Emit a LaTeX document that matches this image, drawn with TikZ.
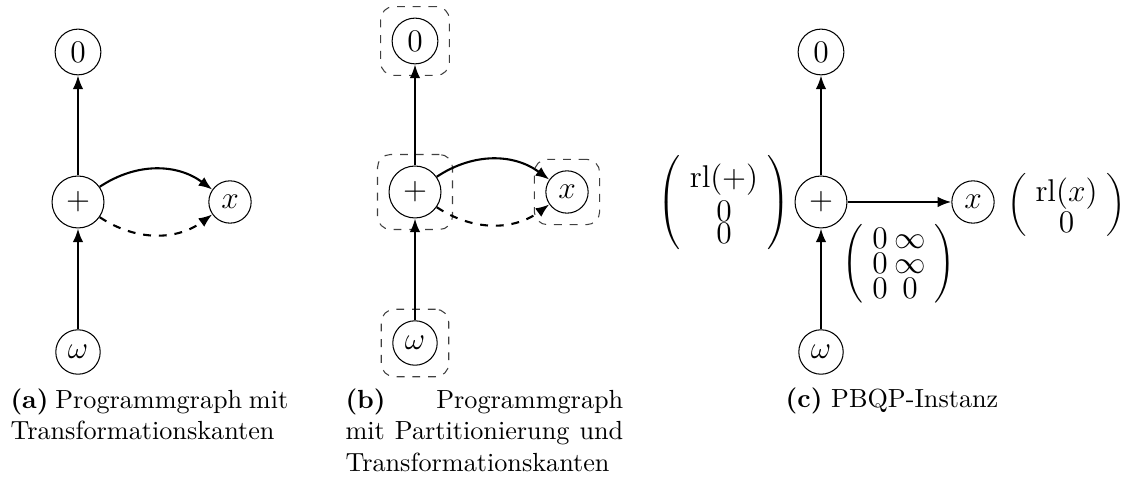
\documentclass[tikz,border=0pt]{standalone}
\usepackage{amsmath}
\usetikzlibrary{arrows.meta,fit,matrix}
\begin{document}
\begin{tikzpicture}[x=0.38168pt,y=-0.38168pt,
  vertex/.style={circle,draw,thin,inner sep=2.75pt,font=\large},
  edge/.style={thick,-{Latex[length=5.2pt,width=4pt]}},
  part/.style={draw=black!75,thin,dashed,rounded corners=5pt,inner sep=4.2pt},
  captext/.style={text width=106pt,align=justify,inner sep=0pt,anchor=north west},
  vec/.style={matrix of math nodes,left delimiter=(,right delimiter=),
    inner sep=2pt,nodes={inner sep=0pt,font=\large}},
]
\useasboundingbox (0,0) rectangle (1132,481);

% (a) program graph with transformation edges
\node[vertex] (a0) at (78,52) {$0$};
\node[vertex] (ap) at (78,202) {$+$};
\node[vertex] (ax) at (230,202) {$x$};
\node[vertex] (aw) at (78,352) {$\omega$};
\draw[edge] (ap) -- (a0);
\draw[edge] (aw) -- (ap);
\draw[edge] (ap) to[bend left=35] (ax);
\draw[edge,dashed] (ap) to[bend right=35] (ax);
\node[captext] (capa) at (10,388) {\hyphenpenalty=10000
  \textbf{(a)} Programmgraph mit\linebreak Transformationskanten};

% (b) the same graph with its partitioning
\node[vertex] (b0) at (415,41) {$0$};
\node[vertex] (bp) at (415,192) {$+$};
\node[vertex] (bx) at (567,192) {$x$};
\node[vertex] (bw) at (415,343) {$\omega$};
\node[part,fit=(b0)] (pb0) {};
\node[part,fit=(bp)] (pbp) {};
\node[part,fit=(bx)] (pbx) {};
\node[part,fit=(bw)] (pbw) {};
\draw[edge] (bp) -- (b0);
\draw[edge] (bw) -- (bp);
\draw[edge] (bp) to[bend left=35] (bx);
\draw[edge,dashed] (bp) to[bend right=35] (bx);
\node[captext] (capb) at (345,388) {\hyphenpenalty=10000
  \textbf{(b)} Programmgraph\linebreak mit Partitionierung und\linebreak Transformationskanten};

% (c) PBQP instance
\node[vertex] (c0) at (821,52) {$0$};
\node[vertex] (cp) at (821,202) {$+$};
\node[vertex] (cx) at (973,202) {$x$};
\node[vertex] (cw) at (821,352) {$\omega$};
\draw[edge] (cp) -- (c0);
\draw[edge] (cw) -- (cp);
\draw[edge] (cp) -- (cx);
\matrix[vec] (vp) at (724,204) {
  \mathrm{rl}(+) \\[2.3pt]
  0 \\[0.6pt]
  0 \\
};
\matrix[vec] (vx) at (1066.5,205) {
  \mathrm{rl}(x) \\[1.2pt]
  0 \\
};
\matrix[vec,column sep=2.5pt] (mpx) at (899,263.5) {
  0 & \infty \\[1.8pt]
  0 & \infty \\[1.8pt]
  0 & 0 \\
};
\node[anchor=base] (capc) at (892,408) {\textbf{(c)} PBQP-Instanz};
\end{tikzpicture}
\end{document}
